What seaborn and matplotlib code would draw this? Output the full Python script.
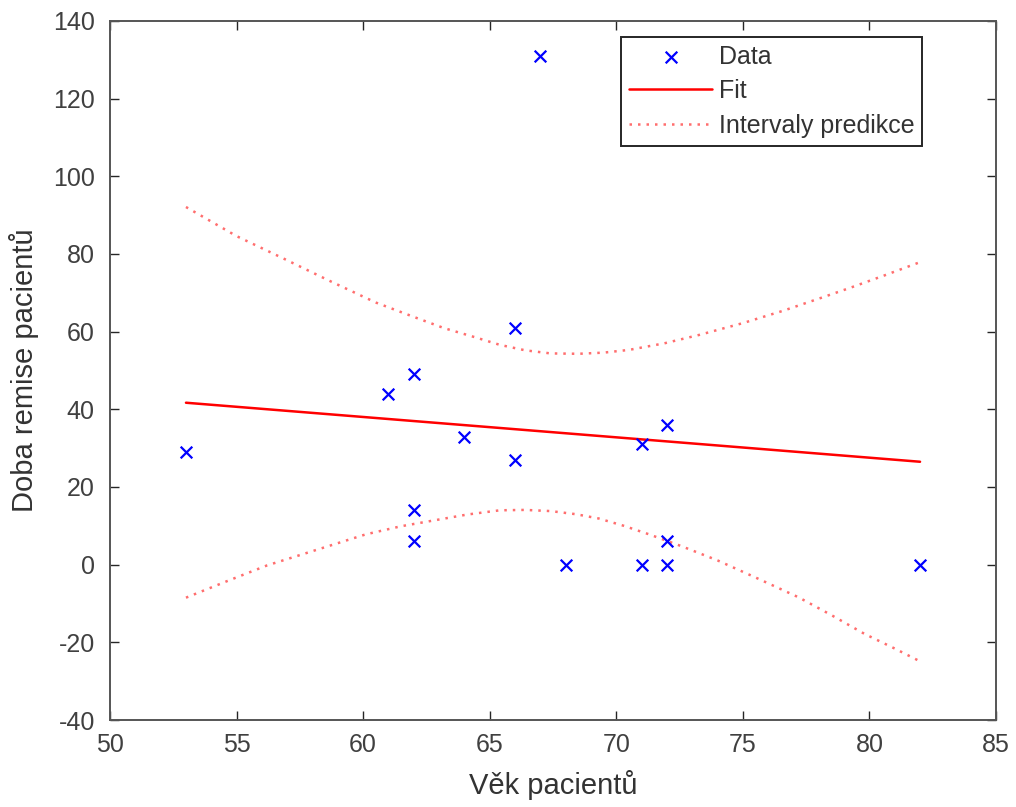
import matplotlib
matplotlib.use("Agg")
import matplotlib.pyplot as plt
import seaborn as sns
import pandas as pd

# ---- data ----
age = [53, 61, 62, 62, 62, 64, 66, 66, 67, 68, 71, 71, 72, 72, 72, 82]
remission = [29, 44, 49, 14, 6, 33, 61, 27, 131, 0, 31, 0, 36, 6, 0, 0]

fit_x = [53, 82]
fit_y = [41.7, 26.5]

upper_x = [53, 55, 56.8, 58.7, 60.5, 62, 63.2, 64.4, 65.4, 66.4, 67.4, 68.5, 69.5, 70.5, 71.9, 73.3, 75, 76.6, 78, 79.2, 80.6, 82]
upper_y = [92.1, 84.6, 79.0, 73.0, 67.5, 63.8, 60.9, 58.6, 56.6, 55.2, 54.4, 54.3, 54.6, 55.3, 57.0, 59.2, 62.2, 65.4, 68.5, 71.2, 74.5, 77.9]

lower_x = [53, 54.6, 56.2, 58.2, 60.1, 61.5, 62.8, 64.1, 65.4, 66.4, 67.4, 68.4, 69.3, 70.3, 71.3, 72.6, 74.0, 75.6, 77.2, 78.5, 79.8, 81.0, 82]
lower_y = [-8.5, -4.3, -0.2, 3.9, 7.8, 9.9, 11.4, 12.9, 14.0, 14.1, 13.8, 13.0, 11.9, 10.0, 7.8, 4.7, 1.1, -3.6, -8.4, -13.0, -17.8, -21.6, -24.9]

x_ticks = [50, 55, 60, 65, 70, 75, 80, 85]
y_ticks = [-40, -20, 0, 20, 40, 60, 80, 100, 120, 140]

x_label = "Věk pacientů"
y_label = "Doba remise pacientů"
legend_labels = ["Data", "Fit", "Intervaly predikce"]

# ---- styling ----
sns.set_theme(style="white")
plt.rcParams["font.family"] = ["Liberation Sans", "DejaVu Sans"]

fig = plt.figure(figsize=(10.16, 8.07), dpi=100)
ax = fig.add_axes([0.1083, 0.1078, 0.8720, 0.8662])

df_pts = pd.DataFrame({"age": age, "remission": remission})
df_fit = pd.DataFrame({"x": fit_x, "y": fit_y})
df_up = pd.DataFrame({"x": upper_x, "y": upper_y})
df_lo = pd.DataFrame({"x": lower_x, "y": lower_y})

sns.scatterplot(data=df_pts, x="age", y="remission", ax=ax, marker="x",
                color="#0000ff", s=70, linewidth=1.6, label=legend_labels[0], zorder=3)
sns.lineplot(data=df_fit, x="x", y="y", ax=ax, color="#ff0000", linewidth=1.8,
             label=legend_labels[1], sort=False, zorder=2)
dot = (0, (1, 2.4))
sns.lineplot(data=df_up, x="x", y="y", ax=ax, color="#ff2020", alpha=0.65, linewidth=1.8,
             linestyle=dot, label=legend_labels[2], sort=False, zorder=2)
sns.lineplot(data=df_lo, x="x", y="y", ax=ax, color="#ff2020", alpha=0.65, linewidth=1.8,
             linestyle=dot, label="_nolegend_", sort=False, zorder=2)

ax.set_xlim(50, 85)
ax.set_ylim(-40, 140)
ax.set_xticks(x_ticks)
ax.set_yticks(y_ticks)
ax.set_xticklabels([str(t) for t in x_ticks])
ax.set_yticklabels([str(t) for t in y_ticks])

tick_col = "#404040"
ax.tick_params(axis="both", which="both", direction="in", length=6.5, width=1.0,
               color="#262626", labelcolor=tick_col, labelsize=18,
               top=True, right=True, bottom=True, left=True)
ax.tick_params(axis="x", pad=9)
ax.tick_params(axis="y", pad=11)

for sp in ax.spines.values():
    sp.set_visible(True)
    sp.set_color("#555555")
    sp.set_linewidth(1.4)

ax.set_xlabel(x_label, fontsize=21, color="#333333", labelpad=10)
ax.set_ylabel(y_label, fontsize=21, color="#333333", labelpad=10)
ax.grid(False)

leg = ax.legend(loc="upper right", bbox_to_anchor=(0.917, 0.9776), borderaxespad=0,
                fontsize=18, frameon=True, fancybox=False, shadow=False,
                handlelength=3.3, handletextpad=0.28, labelspacing=0.42,
                borderpad=0.32, edgecolor="#262626", framealpha=1)
leg.get_frame().set_linewidth(1.4)
for t in leg.get_texts():
    t.set_color("#333333")

fig.savefig("out.png", dpi=100, facecolor="white")
